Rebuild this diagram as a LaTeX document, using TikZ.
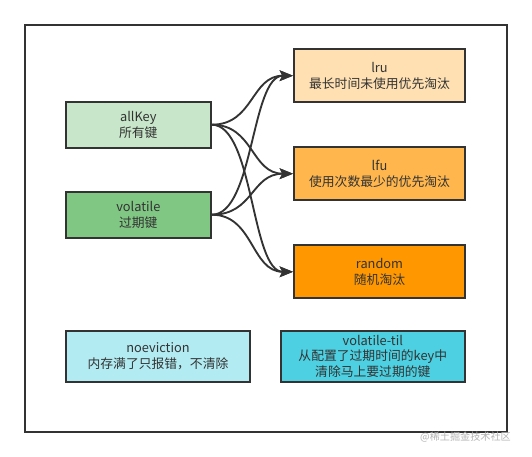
\documentclass[tikz,border=0pt]{standalone}
\usepackage{fontspec}
\setmainfont{Noto Sans CJK SC}
\usetikzlibrary{arrows.meta}
\definecolor{ink}{HTML}{333333}
\definecolor{gA}{HTML}{C8E6C9}
\definecolor{gB}{HTML}{81C784}
\definecolor{oA}{HTML}{FFE0B2}
\definecolor{oB}{HTML}{FFB74D}
\definecolor{oC}{HTML}{FF9800}
\definecolor{cA}{HTML}{B2EBF2}
\definecolor{cB}{HTML}{4DD0E1}
\definecolor{wm}{HTML}{B4B4B4}
\begin{document}
\begin{tikzpicture}[x=0.75pt,y=-0.75pt,
  box/.style={draw=ink, line width=1.5pt, text=ink, align=center, inner sep=0pt,
    font=\fontsize{9.6}{11.8}\selectfont},
  srcbox/.style={box, minimum width=108.75pt, minimum height=34.5pt},
  dstbox/.style={box, minimum width=128.25pt, minimum height=39.75pt},
  lowbox/.style={box, minimum width=138.4pt, minimum height=38.25pt},
  frame/.style={draw=ink, line width=1.5pt},
  conn/.style={draw=ink, line width=1.4pt, -{Stealth[length=10pt,width=8pt,inset=2pt]}},
  wmark/.style={text=wm, font=\fontsize{7.6}{9}\selectfont, inner sep=0pt}]
\useasboundingbox (0,0) rectangle (532,457);
\draw[frame] (25,25) rectangle (507,432);

\node[srcbox, fill=gA] (all) at (138.3,124.7) {allKey\\所有键};
\node[srcbox, fill=gB] (vol) at (138.3,214.7) {volatile\\过期键};

\node[dstbox, fill=oA] (lru) at (379.5,75.7) {lru\\最长时间未使用优先淘汰};
\node[dstbox, fill=oB] (lfu) at (379.5,173.7) {lfu\\使用次数最少的优先淘汰};
\node[dstbox, fill=oC] (rnd) at (379.5,271.8) {random\\随机淘汰};

\node[lowbox, fill=cA] (noe) at (158,356.3) {noeviction\\内存满了只报错，不清除};
\node[lowbox, fill=cB] (til) at (372.8,356.3) {volatile-til\\从配置了过期时间的key中\\清除马上要过期的键};

\foreach \s in {all,vol}{
  \foreach \t in {lru,lfu,rnd}{
    \draw[conn] (\s.east) .. controls +(42,0) and +(-42,0) .. (\t.west);
  }
}

\node[wmark] (wmk) at (465.5,437.5) {@稀土掘金技术社区};
\end{tikzpicture}
\end{document}
